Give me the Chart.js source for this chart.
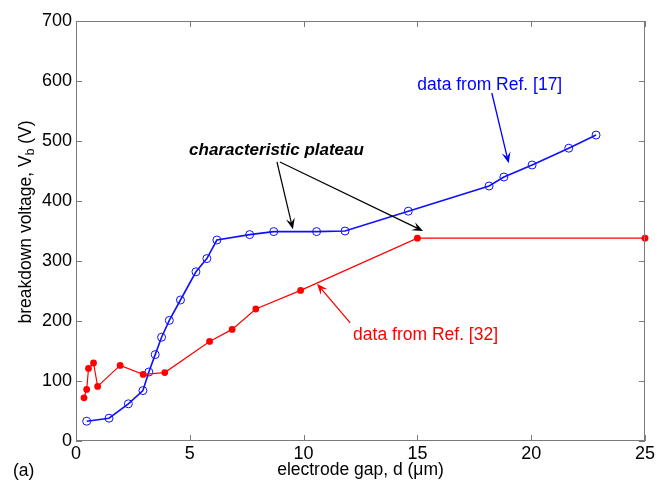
<!DOCTYPE html>
<html>
<head>
<meta charset="utf-8">
<script src="https://cdn.jsdelivr.net/npm/chart.js@4/dist/chart.umd.min.js"></script>
<style>
  html, body { margin: 0; padding: 0; background: #fff; }
</style>
</head>
<body>
<canvas id="myChart" width="657" height="481"></canvas>
<script>
// data from Ref. [17] (open circles)
const gapRef17 = [0.47, 1.45, 2.3, 2.94, 3.2, 3.48, 3.76, 4.1, 4.59, 5.27, 5.75, 6.19, 7.63, 8.69, 10.57, 11.82, 14.6, 18.15, 18.8, 20.04, 21.65, 22.85];
const voltRef17 = [33, 38, 62, 84, 115, 144, 173, 201, 235, 282, 304, 335, 344, 349, 349, 350, 383, 425, 440, 460, 488, 510];
// data from Ref. [32] (filled dots)
const gapRef32 = [0.35, 0.47, 0.55, 0.77, 0.95, 1.94, 2.95, 3.9, 5.87, 6.86, 7.9, 9.87, 15, 25];
const voltRef32 = [72, 86, 121, 130, 91, 126, 111, 114, 166, 186, 220, 251, 338, 338];

const xTicks = [0, 5, 10, 15, 20, 25];
const yTicks = [0, 100, 200, 300, 400, 500, 600, 700];

const FONT = "'Liberation Sans', Arial, Helvetica, sans-serif";

function pts(xs, ys) {
  return xs.map((x, i) => ({ x: x, y: ys[i] }));
}

// annotations, in data coordinates
const notes = [
  { text: "characteristic plateau", x: 8.81, y: 484, color: "#000", font: "italic bold 17px " + FONT,
    arrows: [[8.83, 465, 9.53, 353], [8.96, 465, 15.25, 350]] },
  { text: "data from Ref. [17]", x: 18.18, y: 593, color: "#0000ff", font: "17.5px " + FONT,
    arrows: [[18.27, 580, 19.01, 463]] },
  { text: "data from Ref. [32]", x: 15.36, y: 177, color: "#ff0000", font: "17.5px " + FONT,
    arrows: [[12.05, 197, 10.59, 262]] }
];

function arrow(ctx, x1, y1, x2, y2, color, width) {
  const a = Math.atan2(y2 - y1, x2 - x1);
  const L = 11, W = 4.5;
  ctx.strokeStyle = color;
  ctx.fillStyle = color;
  ctx.lineWidth = width;
  ctx.beginPath();
  ctx.moveTo(x1, y1);
  ctx.lineTo(x2 - Math.cos(a) * L * 0.6, y2 - Math.sin(a) * L * 0.6);
  ctx.stroke();
  ctx.beginPath();
  ctx.moveTo(x2, y2);
  ctx.lineTo(x2 - Math.cos(a) * L - Math.sin(a) * W, y2 - Math.sin(a) * L + Math.cos(a) * W);
  ctx.lineTo(x2 - Math.cos(a) * L * 0.6, y2 - Math.sin(a) * L * 0.6);
  ctx.lineTo(x2 - Math.cos(a) * L + Math.sin(a) * W, y2 - Math.sin(a) * L - Math.cos(a) * W);
  ctx.closePath();
  ctx.fill();
}

const frame = {
  id: "frame",
  afterDraw(chart) {
    const ctx = chart.ctx;
    const a = chart.chartArea;
    const xs = chart.scales.x, ys = chart.scales.y;
    ctx.save();
    // box + inward ticks
    ctx.strokeStyle = "#7a7a7a";
    ctx.lineWidth = 1;
    ctx.strokeRect(a.left + 0.5, a.top + 0.5, a.right - a.left - 1, a.bottom - a.top - 1);
    ctx.beginPath();
    xTicks.forEach(v => {
      const p = Math.round(xs.getPixelForValue(v)) + 0.5;
      ctx.moveTo(p, a.bottom); ctx.lineTo(p, a.bottom - 6);
      ctx.moveTo(p, a.top); ctx.lineTo(p, a.top + 6);
    });
    yTicks.forEach(v => {
      const p = Math.round(ys.getPixelForValue(v)) + 0.5;
      ctx.moveTo(a.left, p); ctx.lineTo(a.left + 6, p);
      ctx.moveTo(a.right, p); ctx.lineTo(a.right - 6, p);
    });
    ctx.stroke();

    // axis titles
    ctx.fillStyle = "#000";
    ctx.textBaseline = "middle";
    ctx.textAlign = "center";
    ctx.font = "17.5px " + FONT;
    ctx.fillText("electrode gap, d (\u03bcm)", (a.left + a.right) / 2, 470);
    ctx.textAlign = "left";
    ctx.fillText("(a)", 13, 471);

    // y title with subscript
    ctx.save();
    ctx.translate(26, 222);
    ctx.rotate(-Math.PI / 2);
    const t1 = "breakdown voltage, V", t2 = "b", t3 = " (V)";
    ctx.font = "17.5px " + FONT;
    const w1 = ctx.measureText(t1).width, w3 = ctx.measureText(t3).width;
    ctx.font = "12px " + FONT;
    const w2 = ctx.measureText(t2).width;
    let x0 = -(w1 + w2 + w3) / 2;
    ctx.textAlign = "left";
    ctx.font = "17.5px " + FONT;
    ctx.fillText(t1, x0, 0);
    ctx.font = "12px " + FONT;
    ctx.fillText(t2, x0 + w1, 5);
    ctx.font = "17.5px " + FONT;
    ctx.fillText(t3, x0 + w1 + w2, 0);
    ctx.restore();

    // annotations
    notes.forEach(n => {
      ctx.font = n.font;
      ctx.fillStyle = n.color;
      ctx.textAlign = "center";
      ctx.textBaseline = "middle";
      ctx.fillText(n.text, xs.getPixelForValue(n.x), ys.getPixelForValue(n.y));
      n.arrows.forEach(ar => {
        arrow(ctx, xs.getPixelForValue(ar[0]), ys.getPixelForValue(ar[1]),
              xs.getPixelForValue(ar[2]), ys.getPixelForValue(ar[3]), n.color, n.color === "#000" ? 1.2 : 1.3);
      });
    });
    ctx.restore();
  }
};

const data = {
  datasets: [
    {
      label: "Ref. [32]",
      data: pts(gapRef32, voltRef32),
      borderColor: "#ff0000",
      backgroundColor: "#ff0000",
      borderWidth: 1.2,
      pointRadius: 3.4,
      pointBorderWidth: 0,
      pointBackgroundColor: "#ff0000",
      showLine: true,
      tension: 0,
    },
    {
      label: "Ref. [17]",
      data: pts(gapRef17, voltRef17),
      borderColor: "#1010ff",
      backgroundColor: "#1010ff",
      borderWidth: 1.6,
      pointRadius: 4,
      pointBorderWidth: 1,
      pointBackgroundColor: "rgba(0,0,0,0)",
      pointBorderColor: "#1010ff",
      showLine: true,
      tension: 0,
    },
  ],
};

const config = {
  type: "scatter",
  data: data,
  options: {
    responsive: false,
    animation: false,
    clip: false,
    layout: { padding: { left: 0, top: 21, right: 9, bottom: 0 } },
    plugins: { legend: { display: false }, tooltip: { enabled: false } },
    scales: {
      x: {
        type: "linear",
        min: 0, max: 25,
        afterBuildTicks: s => { s.ticks = xTicks.map(v => ({ value: v })); },
        afterFit: s => { s.height = 40; },
        grid: { display: false, drawTicks: false },
        border: { display: false },
        ticks: { color: "#000", padding: 2, maxRotation: 0, font: { family: FONT, size: 18 } },
      },
      y: {
        type: "linear",
        min: 0, max: 700,
        afterBuildTicks: s => { s.ticks = yTicks.map(v => ({ value: v })); },
        afterFit: s => { s.width = 76; },
        grid: { display: false, drawTicks: false },
        border: { display: false },
        ticks: { color: "#000", padding: 4, font: { family: FONT, size: 18 } },
      },
    },
  },
  plugins: [frame],
};

const myChart = new Chart(document.getElementById("myChart"), config);
</script>
</body>
</html>
